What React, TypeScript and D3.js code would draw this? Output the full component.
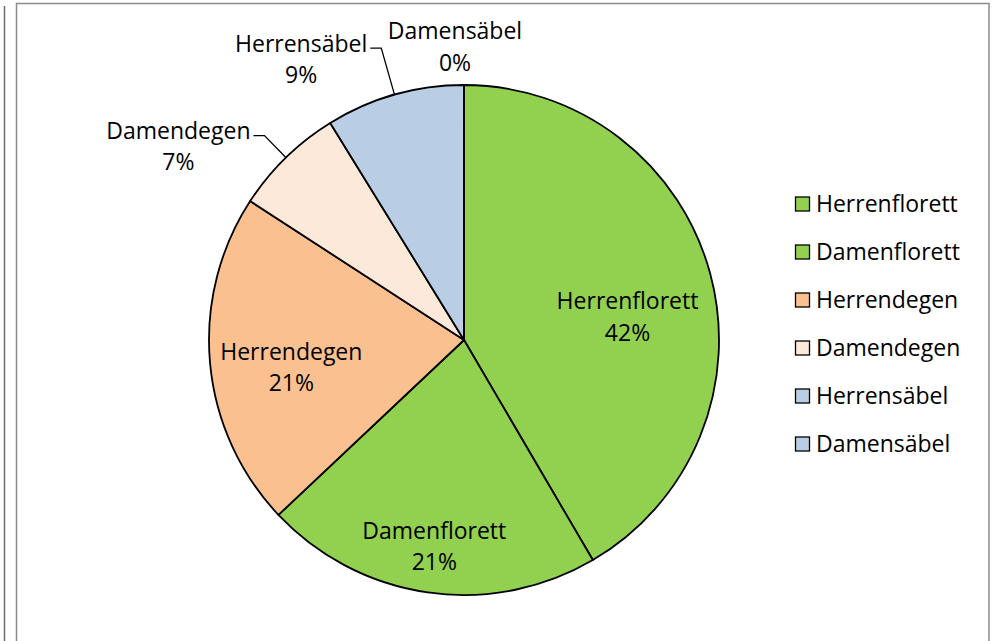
import React from "react";
import * as d3 from "d3";

// slice values (share of events)
const categories = [
  "Herrenflorett",
  "Damenflorett",
  "Herrendegen",
  "Damendegen",
  "Herrensäbel",
  "Damensäbel",
];
const values = [41.57, 21.4, 21.2, 7.04, 8.79, 0];
const colors = ["#92D050", "#92D050", "#FAC090", "#FDE9D9", "#B9CDE5", "#B9CDE5"];

const W = 997;
const H = 641;
const FONT = "'Open Sans', 'Noto Sans', sans-serif";
const FS = 23;

// how each data label sits: inside at a radius fraction, or outside with a leader
type LabelPlace = { inside: boolean; r: number; dx?: number; dy?: number };
const labelPlace: LabelPlace[] = [
  { inside: true, r: 0.64, dx: 6, dy: 20 },
  { inside: true, r: 0.82 },
  { inside: true, r: 0.68, dy: 12 },
  { inside: false, r: 1.12 },
  { inside: false, r: 1.19 },
  { inside: false, r: 1.0, dx: -9, dy: -30 },
];

export default function App() {
  const cx = 464;
  const cy = 340;
  const R = 255;

  const pie = d3
    .pie<number>()
    .sort(null)
    .value((d) => d)
    .startAngle(0)
    .endAngle(2 * Math.PI);
  const arcs = pie(values);
  const arc = d3.arc<d3.PieArcDatum<number>>().innerRadius(0).outerRadius(R);

  const total = d3.sum(values);
  const pct = (v: number) => `${Math.round((v / total) * 100)}%`;

  const legendY = d3
    .scalePoint<string>()
    .domain(categories)
    .range([204, 444]);

  const polar = (a: number, r: number) => [Math.sin(a) * r, -Math.cos(a) * r];

  return (
    <svg
      width={W}
      height={H}
      style={{ position: "absolute", left: 0, top: 0, background: "#fff" }}
      fontFamily={FONT}
      fontSize={FS}
    >
      <rect x={0} y={0} width={W} height={H} fill="#fff" />
      <line x1={4.5} y1={6} x2={4.5} y2={H} stroke="#6b6b6b" strokeWidth={1.5} />
      <rect
        x={16.5}
        y={3.5}
        width={972.5}
        height={H + 20}
        fill="#fff"
        stroke="#8c8c8c"
        strokeWidth={1.5}
      />

      <g transform={`translate(${cx},${cy})`}>
        {arcs.map((a, i) => (
          <path
            key={i}
            d={arc(a) || ""}
            fill={colors[i]}
            stroke="#000"
            strokeWidth={1.8}
            strokeLinejoin="round"
          />
        ))}

        {arcs.map((a, i) => {
          const p = labelPlace[i];
          const mid = (a.startAngle + a.endAngle) / 2;
          if (p.inside) {
            const [x, y] = polar(mid, R * p.r);
            const lx = x + (p.dx || 0);
            const ly = y + (p.dy || 0);
            return (
              <text key={i} x={lx} y={ly} textAnchor="middle" fill="#000">
                <tspan x={lx} dy="-0.35em">{categories[i]}</tspan>
                <tspan x={lx} dy="1.36em">{pct(values[i])}</tspan>
              </text>
            );
          }
          if (values[i] === 0) {
            const [x, y] = polar(mid, R * p.r);
            const lx = x + (p.dx || 0);
            const ly = y + (p.dy || 0);
            return (
              <text key={i} x={lx} y={ly} textAnchor="middle" fill="#000">
                <tspan x={lx} dy="-0.68em">{categories[i]}</tspan>
                <tspan x={lx} dy="1.36em">{pct(values[i])}</tspan>
              </text>
            );
          }
          const [ax, ay] = polar(mid, R);
          const [ex, ey] = polar(mid, R * p.r);
          const hx = ex - 11;
          const tx = hx - 3;
          return (
            <g key={i}>
              <polyline
                points={`${ax},${ay} ${ex},${ey} ${hx},${ey}`}
                fill="none"
                stroke="#000"
                strokeWidth={1.3}
              />
              <text x={tx} y={ey} textAnchor="end" fill="#000">
                <tspan x={tx} dy="0.15em">{categories[i]}</tspan>
              </text>
            </g>
          );
        })}
      </g>

      {/* percent lines of outer labels, centred under the name */}
      {arcs.map((a, i) => {
        const p = labelPlace[i];
        if (p.inside || values[i] === 0) return null;
        const mid = (a.startAngle + a.endAngle) / 2;
        const [ex, ey] = polar(mid, R * p.r);
        return (
          <OuterPct
            key={i}
            name={categories[i]}
            text={pct(values[i])}
            right={cx + ex - 14}
            y={cy + ey}
          />
        );
      })}

      <g>
        {categories.map((c, i) => (
          <g key={c} transform={`translate(795,${legendY(c)})`}>
            <rect
              x={0.5}
              y={-7}
              width={14}
              height={14}
              fill={colors[i]}
              stroke="#000"
              strokeWidth={1.3}
            />
            <text x={21} y={0} dy="0.35em" fill="#000">
              {c}
            </text>
          </g>
        ))}
      </g>
    </svg>
  );
}

// second line of an outside label: centred below the right-aligned name
function OuterPct(props: { name: string; text: string; right: number; y: number }) {
  const ref = React.useRef<SVGTextElement>(null);
  const [w, setW] = React.useState(0);
  React.useLayoutEffect(() => {
    const probe = document.createElementNS("http://www.w3.org/2000/svg", "text");
    probe.setAttribute("font-family", FONT);
    probe.setAttribute("font-size", String(FS));
    probe.textContent = props.name;
    const svg = ref.current?.ownerSVGElement;
    if (svg) {
      svg.appendChild(probe);
      setW(probe.getComputedTextLength());
      svg.removeChild(probe);
    }
  }, [props.name]);
  return (
    <text
      ref={ref}
      x={props.right - w / 2}
      y={props.y}
      dy="1.5em"
      textAnchor="middle"
      fill="#000"
    >
      {props.text}
    </text>
  );
}
